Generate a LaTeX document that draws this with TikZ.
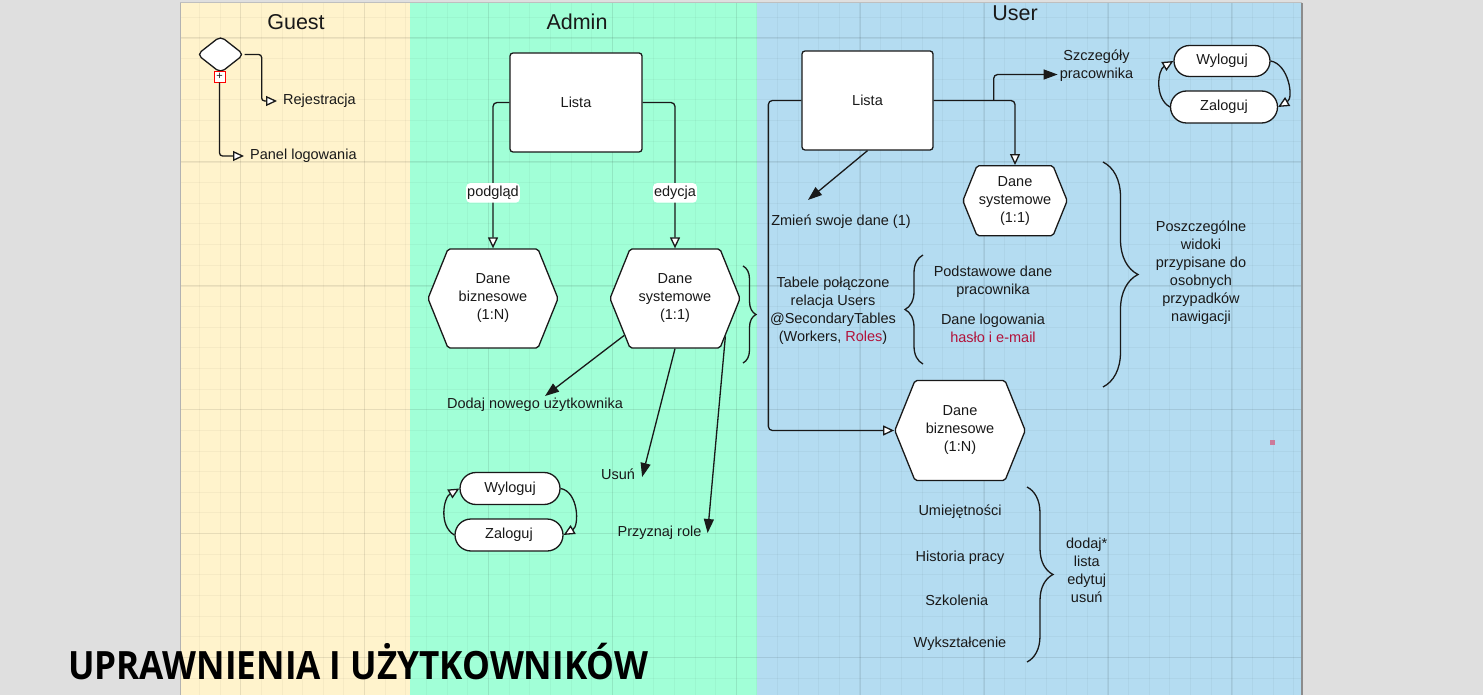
\documentclass[tikz,border=0pt]{standalone}
\usepackage{fontspec}
\setmainfont{Liberation Sans}
\newfontfamily\titlefont[FakeStretch=0.9]{Open Sans}
\usetikzlibrary{arrows.meta,shapes.geometric,shapes.misc,shapes.symbols,decorations.pathreplacing}
\definecolor{bggray}{RGB}{223,223,223}
\definecolor{guestbg}{RGB}{255,243,204}
\definecolor{adminbg}{RGB}{161,255,215}
\definecolor{userbg}{RGB}{180,220,241}
\definecolor{inkred}{RGB}{178,18,58}
\definecolor{ink}{RGB}{25,25,25}
\definecolor{dotpink}{RGB}{204,122,154}
\begin{document}
\begin{tikzpicture}[x=1pt,y=1pt,
    every node/.append style={font=\fontsize{14.5}{18}\selectfont, text=ink},
    line/.style={draw=ink, line width=1.3pt},
    link/.style={line, rounded corners=4pt, -{Triangle[length=11pt,width=10pt,fill=white]}},
    push/.style={line, -{Triangle[length=14pt,width=10pt]}},
    box/.style={line, fill=white, rounded corners=3pt, minimum width=#1, minimum height=99pt},
    hexa/.style={line, fill=white, signal, signal to=east and west, signal pointer angle=136,
      rounded corners=2pt, align=center, inner xsep=0pt, inner ysep=0pt},
    pill/.style={line, fill=white, rounded rectangle, minimum width=#1, minimum height=32pt, inner sep=0pt},
    tag/.style={fill=white, inner xsep=1pt, inner ysep=3pt},
    title/.style={font=\fontsize{21.5}{24}\selectfont},
    curly/.style={line, decorate, decoration={brace, amplitude=#1}},
    gridthin/.style={black, opacity=0.035, line width=1pt},
    gridthick/.style={black, opacity=0.06, line width=1.5pt}]
    \tikzstyle{every node}+=[inner sep=2pt]
    \useasboundingbox (0,0) rectangle (1483,-695);
    % lanes
    \fill [bggray] (0,0) rectangle (1483,-695);
    \fill [guestbg] (180,-3) rectangle (410,-695);
    \fill [adminbg] (410,-3) rectangle (757,-695);
    \fill [userbg] (757,-3) rectangle (1302,-695);
    \begin{scope}
    \clip (180,-3) rectangle (1302,-695);
    \foreach \k in {8,...,63} \draw [gridthin] ({13.55+20.65*\k},0) -- ++(0,-695);
    \foreach \k in {0,...,33} \draw [gridthin] (0,{-17.35-20.65*\k}) -- ++(1483,0);
    \foreach \k in {0,...,8} \draw [gridthick] ({240.7+123.9*\k},0) -- ++(0,-695);
    \foreach \k in {0,...,5} \draw [gridthick] (0,{-38-123.9*\k}) -- ++(1483,0);
    \end{scope}
    \draw [black!30, line width=1pt] (180,-3) -- (180,-695);
    \draw [black!45, line width=1.5pt] (1302,-3) -- (1302,-695);
    \draw [black!25, line width=1pt] (180,-3) -- (1302,-3);

    % Guest
    \node [title] (gtitle) at (296,-22) {Guest};
    \node [line, fill=white, diamond, minimum width=47pt, minimum height=37pt, rounded corners=5pt, inner sep=0pt] (gdia) at (220.5,-54.5) {};
    \node [draw=red, line width=0.8pt, fill=white, minimum size=11pt, inner sep=0pt, font=\fontsize{11}{11}\selectfont] (gplus) at (219.5,-76.5) {+};
    \node [anchor=west, inner xsep=6pt] (grej) at (277,-101) {Rejestracja};
    \node [anchor=west, inner xsep=6pt] (gpanel) at (244,-156) {Panel logowania};
    \draw [link, rounded corners=3pt] (gdia.east) -- ++(17,0) |- (grej.west);
    \draw [link, rounded corners=3pt] (gplus.south) |- (gpanel.west);

    % Admin
    \node [title] (atitle) at (577,-22) {Admin};
    \node [box=132pt] (alista) at (576,-102.5) {Lista};
    \node [hexa, text width=90pt, minimum height=99pt] (abiz) at (493,-298.5) {Dane\\biznesowe\\(1:N)};
    \node [hexa, text width=90pt, minimum height=99pt] (asys) at (675,-298.5) {Dane\\systemowe\\(1:1)};
    \node (aadd) at (535,-405) {Dodaj nowego użytkownika};
    \node (ausun) at (618,-474) {Usuń};
    \node (arole) at (659.5,-533) {Przyznaj role};
    \node [pill=100pt] (awyl) at (510,-488.5) {Wyloguj};
    \node [pill=108pt] (azal) at (509,-535) {Zaloguj};
    \draw [link] (alista.west) -| node [pos=0.81, tag] {podgląd} (abiz.north);
    \draw [link] (alista.east) -| node [pos=0.81, tag] {edycja} (asys.north);
    \draw [push] (asys.216) -- ([xshift=10pt]aadd.north);
    \draw [push] (asys.south) -- ([xshift=5pt,yshift=-3pt]ausun.east);
    \draw [push] (asys.-37) -- ([xshift=4pt]arole.east);
    \draw [link] (azal.west) to [out=150, in=210] (awyl.west);
    \draw [link] (awyl.east) to [out=-10, in=30] (azal.east);
    \draw [curly=13pt] (743,-266) -- (743,-363);

    % User
    \node [title] (utitle) at (1015,-13) {User};
    \node [box=131pt] (ulista) at (867.5,-100.5) {Lista};
    \node [align=center] (uszcz) at (1096.5,-65.5) {Szczegóły\\pracownika};
    \node [pill=96pt, minimum height=31pt] (uwyl) at (1222,-61) {Wyloguj};
    \node [pill=107pt] (uzal) at (1224,-107) {Zaloguj};
    \node (uzmien) at (841,-222) {Zmień swoje dane (1)};
    \node [hexa, text width=76pt, minimum height=70pt] (usys) at (1015,-200.7) {Dane\\systemowe\\(1:1)};
    \node [align=center] (utabele) at (833,-310.5) {Tabele połączone\\relacja Users\\@SecondaryTables\\(Workers, \textcolor{inkred}{Roles})};
    \node [align=center] (upodst) at (993,-281.3) {Podstawowe dane\\pracownika};
    \node [align=center] (ulogin) at (993,-328.3) {Dane logowania\\\textcolor{inkred}{hasło i e-mail}};
    \node [align=center] (uposz) at (1201,-273) {Poszczególne\\widoki\\przypisane do\\osobnych\\przypadków\\nawigacji};
    \node [hexa, text width=90pt, minimum height=100pt] (ubiz) at (960,-430.5) {Dane\\biznesowe\\(1:N)};
    \node (uumiej) at (960,-512) {Umiejętności};
    \node (uhist) at (960,-557.7) {Historia pracy};
    \node (uszkol) at (956.7,-600.3) {Szkolenia};
    \node (uwyksz) at (960,-643.7) {Wykształcenie};
    \node [align=center] (udodaj) at (1086.7,-570) {dodaj*\\lista\\edytuj\\usuń};
    \node [fill=dotpink, minimum size=5pt, inner sep=0pt] (udot) at (1272,-442) {};
    \draw [link] (ulista.west) -- ++(-33,0) |- (ubiz.west);
    \draw [link] (ulista.east) -| (usys.north);
    \draw [push, rounded corners=4pt] ([xshift=60pt]ulista.east) |- ([yshift=-9pt]uszcz.west);
    \draw [push] (ulista.south) -- ([xshift=-33pt,yshift=13pt]uzmien.north);
    \draw [link] (uzal.west) to [out=150, in=210] (uwyl.west);
    \draw [link] (uwyl.east) to [out=-10, in=30] (uzal.east);
    \draw [curly=18pt] (923,-364) -- (923,-255);
    \draw [curly=35pt] (1103,-162) -- (1103,-387);
    \draw [curly=26pt] (1027,-487) -- (1027,-662);

    % caption
    \node [anchor=base west, inner sep=0pt, text=black, font=\titlefont\bfseries\fontsize{39}{40}\selectfont] (caption) at (68,-679) {UPRAWNIENIA I UŻYTKOWNIKÓW};
\end{tikzpicture}
\end{document}
